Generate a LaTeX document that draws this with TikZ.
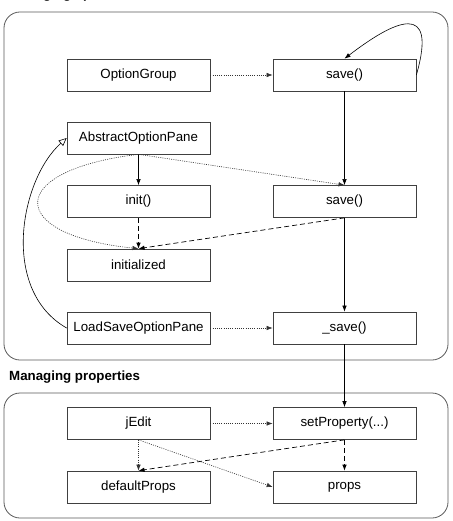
\documentclass[tikz,border=0pt]{standalone}
\usepackage{fontspec}
\setmainfont{Liberation Sans}
\usetikzlibrary{arrows.meta}
\begin{document}
\begin{tikzpicture}[x=1pt,y=-1pt,
  box/.style={draw=black!75,line width=0.7pt,minimum width=143pt,minimum height=32pt,inner sep=0pt,font=\fontsize{13.3}{16}\selectfont},
  group/.style={draw=black!65,line width=0.8pt,rounded corners=16pt},
  title/.style={anchor=base west,inner sep=0pt,font=\fontsize{13.3}{16}\selectfont\bfseries},
  tip/.style={-{Latex[length=6pt,width=4.5pt]}},
  solidarr/.style={tip,line width=0.6pt},
  dotarr/.style={tip,line width=0.6pt,dash pattern=on 1pt off 1.2pt,draw=black!80},
  dasharr/.style={tip,line width=0.7pt,dash pattern=on 5pt off 3pt},
  inherit/.style={-{Triangle[open,length=8pt,width=7pt]},line width=0.6pt}
]
\useasboundingbox (0,0) rectangle (452,521);
% group containers
\draw[group] (4,12) rectangle (448,360);
\draw[group] (4,393) rectangle (448,518);
\node[title] (t1) at (9,-1) {Managing options};
\node[title] (t2) at (9,380) {Managing properties};
% nodes
\node[box] (og) at (138.5,75) {OptionGroup};
\node[box] (s1) at (344.5,75) {save()};
\node[box] (aop) at (138.5,138) {AbstractOptionPane};
\node[box] (init) at (138.5,201.5) {init()};
\node[box] (s2) at (344.5,201.5) {save()};
\node[box] (ini) at (138.5,265) {initialized};
\node[box] (lsop) at (138.5,328) {LoadSaveOptionPane};
\node[box] (s3) at (344.5,328) {\_save()};
\node[box] (je) at (138.5,423.5) {jEdit};
\node[box] (sp) at (344.5,423.5) {setProperty(...)};
\node[box] (dp) at (138.5,487) {defaultProps};
\node[box] (pr) at (344.5,487) {props};
% connectors
\draw[dotarr] (og) -- (s1);
\draw[solidarr] (s1.east) .. controls (438,0) and (395,20) .. (s1.north);
\draw[solidarr] (s1) -- (s2);
\draw[solidarr] (aop) -- (init);
\draw[dotarr] (aop.south) -- (s2.north);
\draw[dotarr] (aop.south) .. controls (5,170) and (5,235) .. (ini.north);
\draw[dasharr] (init) -- (ini);
\draw[dasharr] (s2.south) -- (ini.north);
\draw[solidarr] (s2) -- (s3);
\draw[inherit] (lsop.west) .. controls (0,290) and (20,180) .. (aop.west);
\draw[dotarr] (lsop) -- (s3);
\draw[solidarr] (s3) -- (sp);
\draw[dotarr] (je) -- (sp);
\draw[dotarr] (je) -- (dp);
\draw[dotarr] (je.south) -- (pr.west);
\draw[dasharr] (sp.south) -- (dp.north);
\draw[dasharr] (sp) -- (pr);
\end{tikzpicture}
\end{document}
